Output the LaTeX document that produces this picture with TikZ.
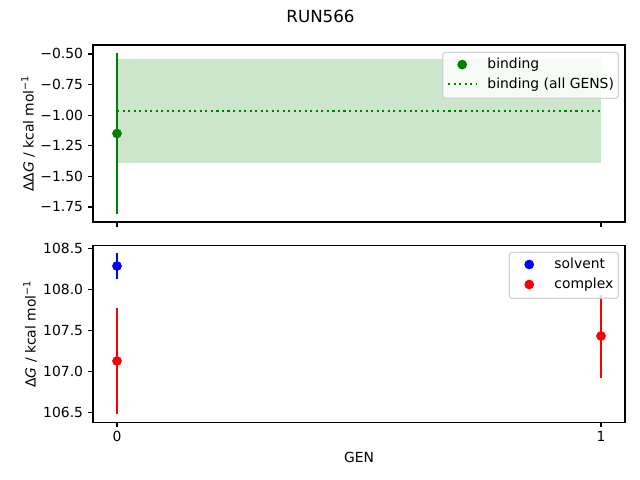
\documentclass[tikz,border=0pt]{standalone}
\usepackage{fontspec}
\setmainfont{DejaVu Sans}
\definecolor{mplgreen}{HTML}{008000}
\definecolor{mplblue}{HTML}{0000FF}
\definecolor{mplred}{HTML}{FF0000}
\definecolor{legedge}{gray}{0.8}
\begin{document}
\begin{tikzpicture}[x=0.01in,y=-0.01in,
  lbl/.style={inner sep=0pt,font=\fontsize{10bp}{12bp}\selectfont},
  ttl/.style={inner sep=0pt,font=\fontsize{12bp}{14bp}\selectfont},
  spine/.style={line width=0.8bp,black},
  tk/.style={line width=0.8bp,black},
  ebar/.style={line width=1.5bp},
  dotm/.style={circle,inner sep=0pt,minimum size=7bp},
  dotline/.style={line width=1.5bp,dash pattern=on 1.5bp off 2.475bp},
  legbox/.style={draw=legedge,draw opacity=0.8,fill=white,fill opacity=0.8,rounded corners=2bp,line width=1bp}]
\useasboundingbox (0,0) rectangle (640,480);
% title
\node[ttl,anchor=base] (title) at (320.5,22.7) {RUN566};

% ================= top axes =================
\fill[mplgreen,opacity=0.2] (117,59.3) rectangle (601,163.3);
\coordinate (dl) at (117,111);
\coordinate (dr) at (601,111);
\draw[mplgreen,dotline] (dl) -- (dr);
\coordinate (gt) at (117,53.3);
\coordinate (gb) at (117,213.6);
\draw[mplgreen,ebar] (gt) -- (gb);
\node[dotm,fill=mplgreen] (g0) at (117,133.5) {};
\draw[spine] (93,45) rectangle (625,222);
% y ticks top
\foreach \yy/\tt in {54.0/−0.50,84.6/−0.75,115.2/−1.00,145.8/−1.25,176.4/−1.50,207.0/−1.75}{
  \draw[tk] (93,\yy) -- (88.1,\yy);
  \node[lbl,anchor=base east] at (83.3,\yy+5) {\tt};
}
% x ticks top (no labels)
\draw[tk] (117,222) -- (117,226.9);
\draw[tk] (601,222) -- (601,226.9);
% y label top
\node[lbl,rotate=90,anchor=base] (yl1) at (33.5,133.5) {ΔΔ\textit{G} / kcal mol\textsuperscript{−1}};
% legend top
\draw[legbox] (442.7,52.3) rectangle (618.3,98.3);
\node[dotm,fill=mplgreen] (lg1) at (462.2,64.6) {};
\node[lbl,anchor=base west] (lt1) at (487.2,68.6) {binding};
\coordinate (ld1) at (448.3,84.3);
\coordinate (ld2) at (476.1,84.3);
\draw[mplgreen,dotline] (ld1) -- (ld2);
\node[lbl,anchor=base west] (lt2) at (487.2,88.3) {binding (all GENS)};

% ================= bottom axes =================
\coordinate (bt) at (117,252.7);
\coordinate (bb) at (117,279.0);
\draw[mplblue,ebar] (bt) -- (bb);
\node[dotm,fill=mplblue] (b0) at (117,266) {};
\coordinate (rt0) at (117,307.7);
\coordinate (rb0) at (117,413.7);
\draw[mplred,ebar] (rt0) -- (rb0);
\node[dotm,fill=mplred] (r0) at (117,361) {};
\coordinate (rt1) at (601,295.0);
\coordinate (rb1) at (601,377.7);
\draw[mplred,ebar] (rt1) -- (rb1);
\node[dotm,fill=mplred] (r1) at (601,336) {};
\draw[spine] (93,245.5) rectangle (625,422.5);
% y ticks bottom
\foreach \yy/\tt in {248.3/108.5,289.3/108.0,330.3/107.5,371.3/107.0,412.3/106.5}{
  \draw[tk] (93,\yy) -- (88.1,\yy);
  \node[lbl,anchor=base east] at (83.3,\yy+5) {\tt};
}
% x ticks bottom
\draw[tk] (117,422.5) -- (117,427.4);
\draw[tk] (601,422.5) -- (601,427.4);
\node[lbl,anchor=base] (x0) at (117,441.7) {0};
\node[lbl,anchor=base] (x1) at (601,441.7) {1};
\node[lbl,anchor=base] (xl) at (359,462.3) {GEN};
% y label bottom
\node[lbl,rotate=90,anchor=base] (yl2) at (35.5,334) {Δ\textit{G} / kcal mol\textsuperscript{−1}};
% legend bottom
\draw[legbox] (509.3,252.3) rectangle (618.3,298.3);
\node[dotm,fill=mplblue] (lb1) at (529.2,264.5) {};
\node[lbl,anchor=base west] (ls1) at (554.2,268.5) {solvent};
\node[dotm,fill=mplred] (lr1) at (529.2,284.5) {};
\node[lbl,anchor=base west] (ls2) at (554.2,288.5) {complex};
\end{tikzpicture}
\end{document}
